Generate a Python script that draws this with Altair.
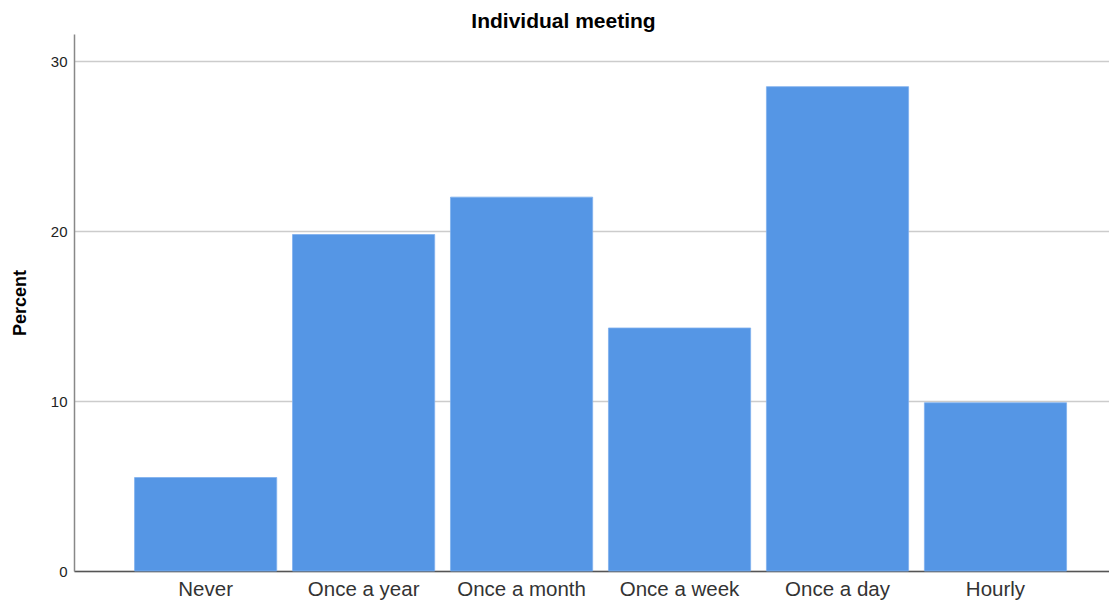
import altair as alt
import pandas as pd

categories = ["Never", "Once a year", "Once a month", "Once a week", "Once a day", "Hourly"]
percent = [5.5, 19.8, 22.0, 14.3, 28.5, 9.9]

df = pd.DataFrame({"category": categories, "percent": percent})

FONT = "Liberation Sans"

chart = alt.Chart(df).mark_bar(
    color="#5596E5", stroke="#7FB0EE", strokeWidth=0.8
).encode(
    x=alt.X(
        "category:N",
        sort=categories,
        title=None,
        scale=alt.Scale(paddingInner=0.1, paddingOuter=0.326, align=0.588),
        axis=alt.Axis(
            labelAngle=0, labelFontSize=20.5, labelColor="#333333", labelFont=FONT,
            ticks=False, labelPadding=8, domainColor="#555555", domainWidth=1.5,
            grid=False,
        ),
    ),
    y=alt.Y(
        "percent:Q",
        title="Percent",
        scale=alt.Scale(domain=[0, 31.6], nice=False),
        axis=alt.Axis(
            values=[0, 10, 20, 30], format="d", labelFontSize=15, labelColor="#222222",
            labelFont=FONT, ticks=False, labelPadding=7, domainColor="#888888",
            domainWidth=1.5, gridColor="#CCCCCC", gridWidth=1.5,
            titleFont=FONT, titleFontSize=18, titleFontWeight="bold", titleColor="#000000",
            titlePadding=21,
        ),
    ),
).properties(
    width=1035,
    height=537,
    title=alt.TitleParams(
        "Individual meeting", font=FONT, fontSize=21, fontWeight="bold",
        color="#000000", anchor="middle", dx=-28, dy=-3, offset=-1,
    ),
    padding={"left": 3, "top": 3, "right": 0, "bottom": 0},
).configure_view(stroke=None)

chart.save("out.html", embed_options={"renderer": "svg", "actions": False})
